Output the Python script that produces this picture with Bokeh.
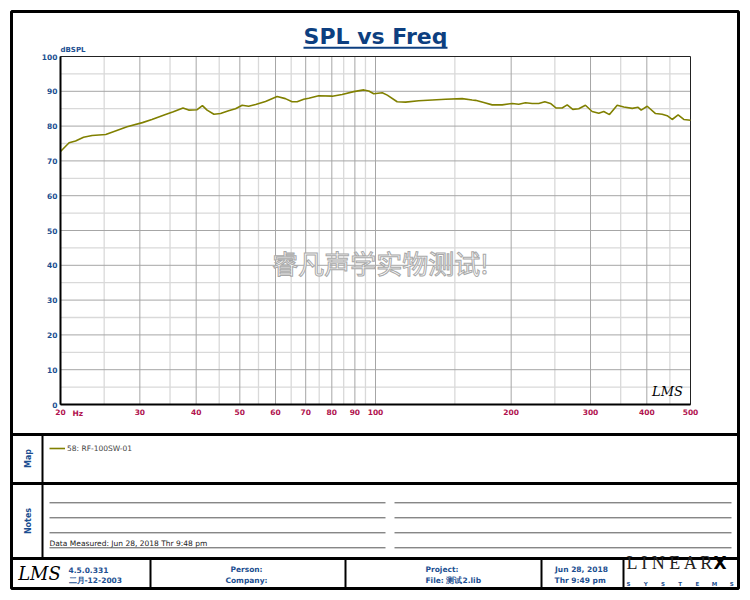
import math
from bokeh.plotting import figure
from bokeh.models import (Range1d, LogScale, LogAxis, LinearAxis, FixedTicker,
                          Legend, LegendItem)
from bokeh.core.properties import value
from bokeh.embed import file_html
from bokeh.resources import INLINE

# ---------------- data ----------------
FREQ_HZ = [20.0, 20.9, 21.6, 22.5, 23.5, 25.2, 26.2, 28.1, 30.4, 31.9, 34.2, 35.6,
           37.4, 38.5, 40.2, 41.3, 42.3, 43.8, 45.3, 47.2, 48.9, 50.6, 52.3, 54.2,
           57.0, 60.5, 63.1, 65.3, 67.0, 69.3, 71.1, 74.8, 80.2, 84.3, 89.5, 94.2,
           96.6, 99.1, 103.5, 106.2, 111.7, 116.6, 124.7, 133.6, 143.0, 155.7, 163.9,
           166.7, 173.9, 181.5, 191.0, 201.0, 207.9, 215.2, 222.7, 230.3, 237.5,
           244.5, 251.7, 259.5, 266.3, 274.0, 282.5, 292.3, 302.5, 312.9, 321.0,
           330.5, 343.8, 355.6, 371.3, 382.6, 388.6, 400.8, 418.2, 432.6, 443.8,
           455.3, 469.4, 483.1, 500.0]
SPL_DB = [72.7, 75.2, 75.7, 76.8, 77.3, 77.6, 78.4, 79.8, 81.0, 81.9, 83.3, 84.1,
          85.2, 84.6, 84.7, 85.9, 84.6, 83.4, 83.6, 84.4, 85.0, 86.0, 85.7, 86.2,
          87.1, 88.5, 87.9, 87.0, 87.0, 87.7, 88.0, 88.7, 88.6, 89.1, 89.9, 90.4,
          90.1, 89.3, 89.6, 88.9, 87.0, 86.9, 87.3, 87.5, 87.7, 87.9, 87.5,
          87.4, 86.8, 86.1, 86.1, 86.5, 86.3, 86.7, 86.5, 86.5, 87.0,
          86.5, 85.2, 85.2, 86.1, 84.8, 85.0, 86.0, 84.2, 83.7, 84.2,
          83.3, 86.0, 85.5, 85.1, 85.4, 84.6, 85.7, 83.6, 83.4, 83.0,
          81.9, 83.2, 81.9, 81.7]

X_TICKS = [20, 30, 40, 50, 60, 70, 80, 90, 100, 200, 300, 400, 500]
X_TICK_LABELS = ["20", "30", "40", "50", "60", "70", "80", "90", "100", "200", "300", "400", "500"]
X_MINOR = [25, 35, 45, 55, 65, 75, 85, 95, 150, 250, 350, 450]
Y_TICKS = [0, 10, 20, 30, 40, 50, 60, 70, 80, 90, 100]
Y_MINOR = [5, 15, 25, 35, 45, 55, 65, 75, 85, 95]
X_MIN, X_MAX = 20, 500
Y_MIN, Y_MAX = 0, 100

TITLE = "SPL vs Freq"
Y_UNIT = "dBSPL"
X_UNIT = "Hz"
SERIES = "58: RF-100SW-01"
WATERMARK = "睿凡声学实物测试!"
NOTE_TEXT = "Data Measured: Jun 28, 2018  Thr  9:48 pm"

# ---------------- layout constants (pixels) ----------------
W, H = 750, 600
PX_L, PX_R, PX_T, PX_B = 60, 690, 56, 404

BLUE = "#1c4f91"
TITLE_BLUE = "#0d3f80"
CRIMSON = "#b0124e"
OLIVE = "#808000"

p = figure(width=W, height=H, x_range=Range1d(0, W), y_range=Range1d(H, 0),
           x_axis_type=None, y_axis_type=None, toolbar_location=None,
           output_backend="svg", min_border=0, title=None)
p.outline_line_color = None
p.background_fill_color = "white"
p.border_fill_color = "white"

span = math.log10(X_MAX / X_MIN)
f_lo = X_MIN * 10 ** (-PX_L * span / (PX_R - PX_L))
f_hi = X_MAX * 10 ** ((W - PX_R) * span / (PX_R - PX_L))
ppd = (PX_B - PX_T) / (Y_MAX - Y_MIN)
db_lo = Y_MIN - (H - PX_B) / ppd
db_hi = Y_MAX + PX_T / ppd
p.extra_x_ranges = {"f": Range1d(f_lo, f_hi)}
p.extra_x_scales = {"f": LogScale()}
p.extra_y_ranges = {"db": Range1d(db_lo, db_hi)}

RN = dict(x_range_name="f", y_range_name="db")

# grid
p.segment(x0=X_MINOR, x1=X_MINOR, y0=[Y_MIN] * len(X_MINOR), y1=[Y_MAX] * len(X_MINOR),
          line_color="#d9d9d9", line_width=1.3, **RN)
p.segment(x0=[X_MIN] * len(Y_MINOR), x1=[X_MAX] * len(Y_MINOR), y0=Y_MINOR, y1=Y_MINOR,
          line_color="#d9d9d9", line_width=1.3, **RN)
XM = X_TICKS[1:-1]
p.segment(x0=XM, x1=XM, y0=[Y_MIN] * len(XM), y1=[Y_MAX] * len(XM),
          line_color="#a6a6a6", line_width=1, **RN)
YM = Y_TICKS[1:-1]
p.segment(x0=[X_MIN] * len(YM), x1=[X_MAX] * len(YM), y0=YM, y1=YM,
          line_color="#a6a6a6", line_width=1, **RN)
p.quad(left=[X_MIN], right=[X_MAX], bottom=[Y_MIN], top=[Y_MAX], fill_color=None,
       line_color="#222222", line_width=1, **RN)

# watermark
p.text(x=[380], y=[262], text=[WATERMARK], text_font=value("Noto Sans CJK SC"),
       text_font_size="26px", text_color="white", text_outline_color="#a8a8a8",
       text_align="center", text_baseline="middle")

# curve
curve = p.line(FREQ_HZ, SPL_DB, line_color=OLIVE, line_width=1.6, **RN)

# axes
xa = LogAxis(fixed_location=Y_MIN, bounds=(X_MIN, X_MAX),
             ticker=FixedTicker(ticks=X_TICKS, minor_ticks=[]), **RN)
xa.major_label_overrides = {t: s for t, s in zip(X_TICKS, X_TICK_LABELS)}
ya = LinearAxis(fixed_location=X_MIN, bounds=(Y_MIN, Y_MAX),
                ticker=FixedTicker(ticks=Y_TICKS, minor_ticks=[]), **RN)
for ax, col, so in ((xa, CRIMSON, 4), (ya, BLUE, 3)):
    ax.axis_line_color = "black"
    ax.axis_line_width = 2
    ax.major_tick_line_color = None
    ax.minor_tick_line_color = None
    ax.major_tick_in = 0
    ax.major_tick_out = 0
    ax.major_label_standoff = so
    ax.major_label_text_font = "DejaVu Sans"
    ax.major_label_text_font_size = "7.5px"
    ax.major_label_text_font_style = "bold"
    ax.major_label_text_color = col
p.add_layout(xa, "below")
p.add_layout(ya, "left")


def txt(x, y, s, size="7.5px", color=BLUE, font="DejaVu Sans", style="bold",
        align="left", baseline="middle", angle=0.0):
    p.text(x=[x], y=[y], text=[s], text_font=value(font), text_font_size=size,
           text_color=color, text_font_style=style, text_align=align,
           text_baseline=baseline, angle=angle)


# title
txt(375, 36, TITLE, size="22px", color=TITLE_BLUE, align="center")
p.segment(x0=[303], x1=[447], y0=[47.3], y1=[47.3], line_color=TITLE_BLUE, line_width=2)
txt(60, 49, Y_UNIT, size="7px")
txt(72, 412.5, X_UNIT, color=CRIMSON)
txt(667, 391, "LMS", size="13px", color="black", font="DejaVu Serif", style="italic",
    align="center")

# outer frame & sections
p.quad(left=[11], right=[738], top=[11], bottom=[588], fill_color=None,
       line_color="black", line_width=3)
p.segment(x0=[11, 11, 11], x1=[738, 738, 738], y0=[434, 483, 558], y1=[434, 483, 558],
          line_color="black", line_width=3)
p.segment(x0=[42], x1=[42], y0=[434], y1=[558], line_color="black", line_width=2)
p.segment(x0=[150, 345, 541, 623], x1=[150, 345, 541, 623], y0=[558] * 4, y1=[588] * 4,
          line_color="black", line_width=2)

# map section
txt(27.5, 458, "Map", size="8px", align="center", angle=math.pi / 2)
legend = Legend(items=[LegendItem(label=SERIES, renderers=[curve])], location=(49, 147),
                border_line_color=None, background_fill_alpha=0, padding=0, margin=0,
                spacing=0, glyph_width=16, glyph_height=10, label_height=10,
                label_standoff=2, label_text_font="DejaVu Sans",
                label_text_font_size="7.5px", label_text_color="#444444")
p.add_layout(legend)

# notes section
txt(27.5, 520.5, "Notes", size="8px", align="center", angle=math.pi / 2)
NL = [502.3, 517.3, 532.3, 547.3]
p.segment(x0=[49] * 4, x1=[385] * 4, y0=NL, y1=NL, line_color="#555555", line_width=1)
p.segment(x0=[394] * 4, x1=[731] * 4, y0=NL, y1=NL, line_color="#555555", line_width=1)
txt(49, 543, NOTE_TEXT, size="7.5px", color="#222222", style="normal")

# footer
txt(39, 573, "LMS", size="18px", color="black", font="DejaVu Serif", style="italic",
    align="center")
txt(68, 569.3, "4.5.0.331")
txt(68, 580, "二月-12-2003")
txt(246, 569.3, "Person:", align="center")
txt(246, 580, "Company:", align="center")
txt(425, 569.3, "Project:")
txt(425, 580, "File: 测试2.lib")
txt(581, 569.3, "Jun 28, 2018", align="center")
txt(581, 580, "Thr  9:49 pm", align="center")
txt(626, 562, "L I N E A R", size="18px", color="#222222", font="Liberation Serif",
    style="normal")
txt(713, 562, "X", size="17px", color="black", font="DejaVu Sans", style="bold")
for i, ch in enumerate("SYSTEMS"):
    txt(628 + i * 17.2, 583.5, ch, size="5.5px", align="center")

open("out.html", "w").write(file_html(p, INLINE))
